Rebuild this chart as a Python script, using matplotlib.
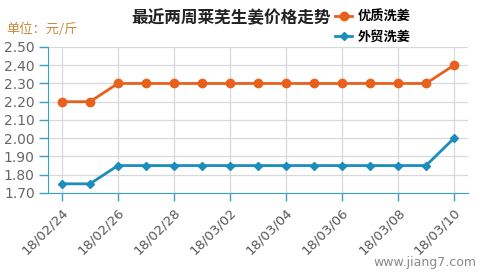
import matplotlib.pyplot as plt

plt.rcParams['font.family'] = ['Noto Sans CJK SC', 'DejaVu Sans']

dates = ['18/02/24', '18/02/25', '18/02/26', '18/02/27', '18/02/28',
         '18/03/01', '18/03/02', '18/03/03', '18/03/04', '18/03/05',
         '18/03/06', '18/03/07', '18/03/08', '18/03/09', '18/03/10']
youzhi = [2.20, 2.20, 2.30, 2.30, 2.30, 2.30, 2.30, 2.30, 2.30, 2.30,
          2.30, 2.30, 2.30, 2.30, 2.40]
waimao = [1.75, 1.75, 1.85, 1.85, 1.85, 1.85, 1.85, 1.85, 1.85, 1.85,
          1.85, 1.85, 1.85, 1.85, 2.00]
yticks = [1.70, 1.80, 1.90, 2.00, 2.10, 2.20, 2.30, 2.40, 2.50]

orange = '#e8601c'
blue = '#1c8dbd'
axis_c = '#3aa0c4'

fig = plt.figure(figsize=(4.84, 2.78), dpi=100)
ax = fig.add_axes([0.099, 0.306, 0.868, 0.525])

x = list(range(len(dates)))
ax.plot(x, youzhi, color=orange, lw=2, marker='o', ms=6, label='优质洗姜', zorder=3)
ax.plot(x, waimao, color=blue, lw=2, marker='D', ms=4.5, label='外贸洗姜', zorder=3)

ax.set_xlim(-0.5, len(dates) - 0.5)
ax.set_ylim(1.70, 2.50)
ax.set_yticks(yticks)
ax.set_yticklabels(['%.2f' % v for v in yticks], fontsize=10, color='#666666',
                   family='DejaVu Sans')
ax.set_xticks(x[::2])
ax.set_xticklabels(dates[::2], rotation=45, ha='right', rotation_mode='anchor',
                   fontsize=9.5, color='#555555', family='DejaVu Sans')
ax.grid(True, color='#d8d8d8', lw=0.9)
ax.set_axisbelow(True)

for s in ['top', 'right']:
    ax.spines[s].set_visible(False)
ax.spines['left'].set_color(axis_c)
ax.spines['bottom'].set_color(axis_c)
ax.tick_params(axis='y', colors=axis_c, length=6.5, width=1, pad=3, labelcolor='#666666')
ax.tick_params(axis='x', colors=axis_c, length=6, width=1, pad=3, labelcolor='#555555')

fig.text(0.478, 0.935, '最近两周莱芜生姜价格走势', ha='center', va='center',
         fontsize=12, fontweight='bold', color='#222222')
fig.text(0.014, 0.895, '单位：元/斤', ha='left', va='center', fontsize=9.5,
         color='#c8873a')

leg = ax.legend(loc='upper left', bbox_to_anchor=(0.655, 1.335), frameon=False,
                handlelength=1.3, handletextpad=0.4, labelspacing=0.45,
                prop={'weight': 'bold', 'size': 9.5})

fig.text(0.985, 0.055, 'www.jiang7.com', ha='right', va='center', fontsize=9,
         color='#888888', family='DejaVu Sans')

fig.savefig('out.png', dpi=100)
